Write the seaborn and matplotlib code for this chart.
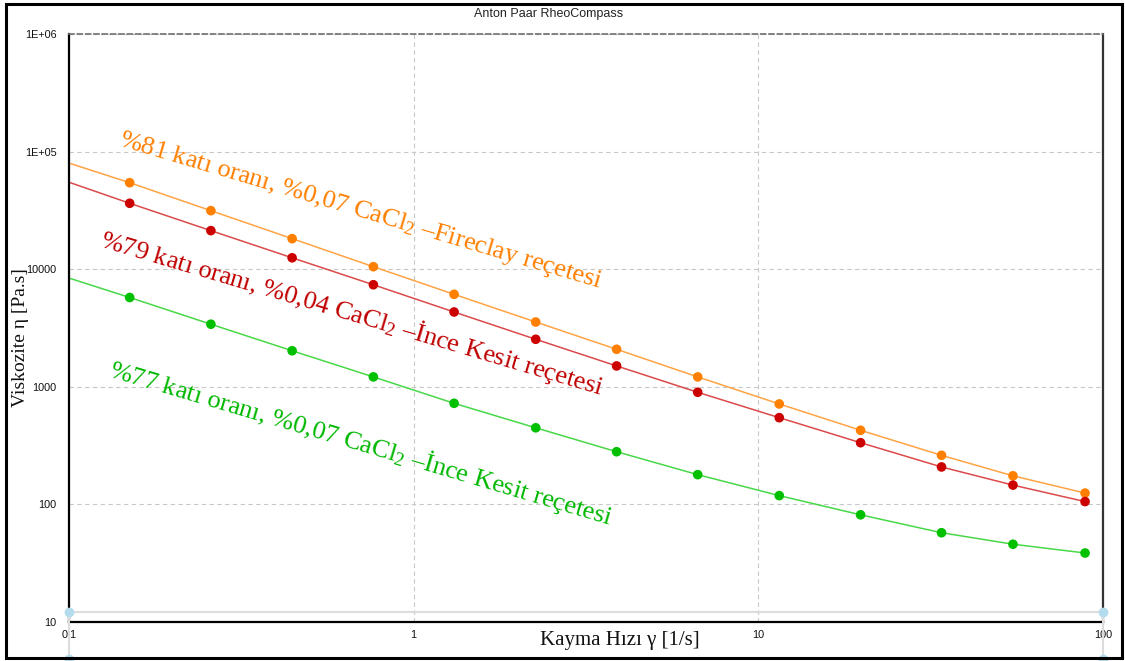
import numpy as np
import pandas as pd
import seaborn as sns
import matplotlib.pyplot as plt
from matplotlib.lines import Line2D
from matplotlib.patches import Rectangle
from matplotlib.ticker import FixedLocator, LogLocator, NullFormatter

## DATA

# shear rate points [1/s]
shear_rate = [0.150, 0.258, 0.444, 0.764, 1.31, 2.26, 3.88, 6.67, 11.5, 19.8, 34.0, 54.8, 88.7]

# viscosity [Pa.s]
visc_81 = [54500, 31500, 18200, 10500, 6110, 3550, 2080, 1210, 712, 425, 260, 174, 124]
visc_79 = [36400, 21300, 12500, 7370, 4320, 2530, 1500, 895, 544, 333, 207, 145, 105]
visc_77 = [5740, 3400, 2020, 1210, 721, 446, 279, 178, 118, 81, 57, 45.5, 38.3]

# fitted curves start at the left edge (x = 0.1)
curve_start_x = 0.1
curve_start = {'81': 80000, '79': 55000, '77': 8400}

series_names = ['81', '79', '77']
series_labels = {
    '81': r'%81 katı oranı, %0,07 CaCl$_2$ –Fireclay reçetesi',
    '79': r'%79 katı oranı, %0,04 CaCl$_2$ –İnce Kesit reçetesi',
    '77': r'%77 katı oranı, %0,07 CaCl$_2$ –İnce Kesit reçetesi',
}
label_pos = {'81': (0.139, 114000), '79': (0.1225, 15800), '77': (0.1295, 1220)}

xticks = [0.1, 1, 10, 100]
xtick_labels = ['0,1', '1', '10', '100']
yticks = [10, 100, 1000, 10000, 1e5, 1e6]
ytick_labels = ['10', '100', '1000', '10000', '1E+05', '1E+06']

title = 'Anton Paar RheoCompass'
ylabel = 'Viskozite η [Pa.s]'
xlabel = 'Kayma Hızı γ [1/s]'

## COLOURS
marker_colors = {'81': '#ff8000', '79': '#cc0000', '77': '#00c000'}
line_colors = {'81': '#ffa444', '79': '#dc4a4a', '77': '#48d848'}
text_colors = {'81': '#ff7f00', '79': '#c00000', '77': '#00b800'}

## TABLES
vals = {'81': visc_81, '79': visc_79, '77': visc_77}
pts = pd.concat([pd.DataFrame({'rate': shear_rate, 'visc': vals[k], 'series': k})
                 for k in series_names], ignore_index=True)
curves = pd.concat([pd.DataFrame({'rate': [curve_start_x] + shear_rate,
                                  'visc': [curve_start[k]] + vals[k], 'series': k})
                    for k in series_names], ignore_index=True)

## PLOT
sns.set_style("white")
plt.rcParams['font.family'] = ['Liberation Sans', 'DejaVu Sans']
plt.rcParams['mathtext.fontset'] = 'custom'
plt.rcParams['mathtext.rm'] = 'Liberation Serif'
plt.rcParams['mathtext.it'] = 'Liberation Serif:italic'

fig = plt.figure(figsize=(11.25, 6.61), dpi=100)
ax = fig.add_axes([69 / 1125, 1 - 621.5 / 661, (1103 - 69) / 1125, (621.5 - 34.3) / 661])
ax.set_xscale('log')
ax.set_yscale('log')

sns.lineplot(data=curves, x='rate', y='visc', hue='series', palette=line_colors,
             estimator=None, sort=False, lw=1.1, legend=False, ax=ax, zorder=2)
sns.scatterplot(data=pts, x='rate', y='visc', hue='series', palette=marker_colors,
                s=48, edgecolor='none', legend=False, ax=ax, zorder=3)

ax.set_xlim(0.1, 100)
ax.set_ylim(10, 1e6)

# ticks
ax.xaxis.set_major_locator(FixedLocator(xticks))
ax.set_xticklabels(xtick_labels)
ax.yaxis.set_major_locator(FixedLocator(yticks))
ax.set_yticklabels(ytick_labels)
ax.xaxis.set_minor_locator(LogLocator(base=10, subs=np.arange(2, 10)))
ax.yaxis.set_minor_locator(LogLocator(base=10, subs=np.arange(2, 10)))
ax.xaxis.set_minor_formatter(NullFormatter())
ax.yaxis.set_minor_formatter(NullFormatter())
ax.tick_params(which='major', direction='inout', length=8, width=1.2, color='black',
               labelsize=7.8, labelcolor='#111111')
ax.tick_params(which='minor', direction='in', length=4, width=1.0, color='black')
ax.tick_params(axis='x', which='major', pad=2)
ax.tick_params(axis='y', which='major', pad=5)
ax.tick_params(top=False, right=False, which='both')

# grid
ax.grid(True, which='major', color='#c8c8c8', ls=(0, (4, 3)), lw=0.8)

# spines
ax.spines['left'].set_color('black')
ax.spines['left'].set_linewidth(1.6)
ax.spines['bottom'].set_color('black')
ax.spines['bottom'].set_linewidth(1.6)
ax.spines['right'].set_color('#333333')
ax.spines['right'].set_linewidth(1.6)
ax.spines['top'].set_color('#707070')
ax.spines['top'].set_linestyle((0, (3, 2)))
ax.spines['top'].set_linewidth(1.2)

ax.set_xlabel('')
ax.set_ylabel('')

# rotated series labels
for k in series_names:
    ax.text(label_pos[k][0], label_pos[k][1], series_labels[k], color=text_colors[k],
            family='Liberation Serif', fontsize=19, rotation=-16.5,
            rotation_mode='anchor', ha='left', va='baseline', zorder=4)

# titles
fig.text(549 / 1125, 1 - 14 / 661, title, ha='center', va='center', fontsize=9,
         color='#222222')
fig.text(21 / 1125, 1 - 338 / 661, ylabel, rotation=90, ha='center', va='center',
         family='Liberation Serif', fontsize=14, color='#111111')
fig.text(540 / 1125, 1 - 641 / 661, xlabel, ha='left', va='center',
         family='Liberation Serif', fontsize=15, color='#111111')

# selection handles left over on the picture
for xs, ys in [([69, 1103], [612, 612]), ([69, 69], [612, 661]), ([1103, 1103], [612, 661])]:
    fig.add_artist(Line2D([x / 1125 for x in xs], [1 - y / 661 for y in ys],
                          color='#dcdcdc', lw=1.5, zorder=1))
for x, y in [(69, 612), (1103, 612), (69, 659), (1103, 659)]:
    fig.add_artist(Line2D([x / 1125], [1 - y / 661], marker='o', ms=6,
                          color='#b4dcec', zorder=5))

# outer frame
fig.add_artist(Rectangle((6 / 1125, 1 - 658 / 661), 1116 / 1125, 654 / 661,
                         fill=False, ec='black', lw=2.2, zorder=6))

plt.savefig('out.png', dpi=100)
